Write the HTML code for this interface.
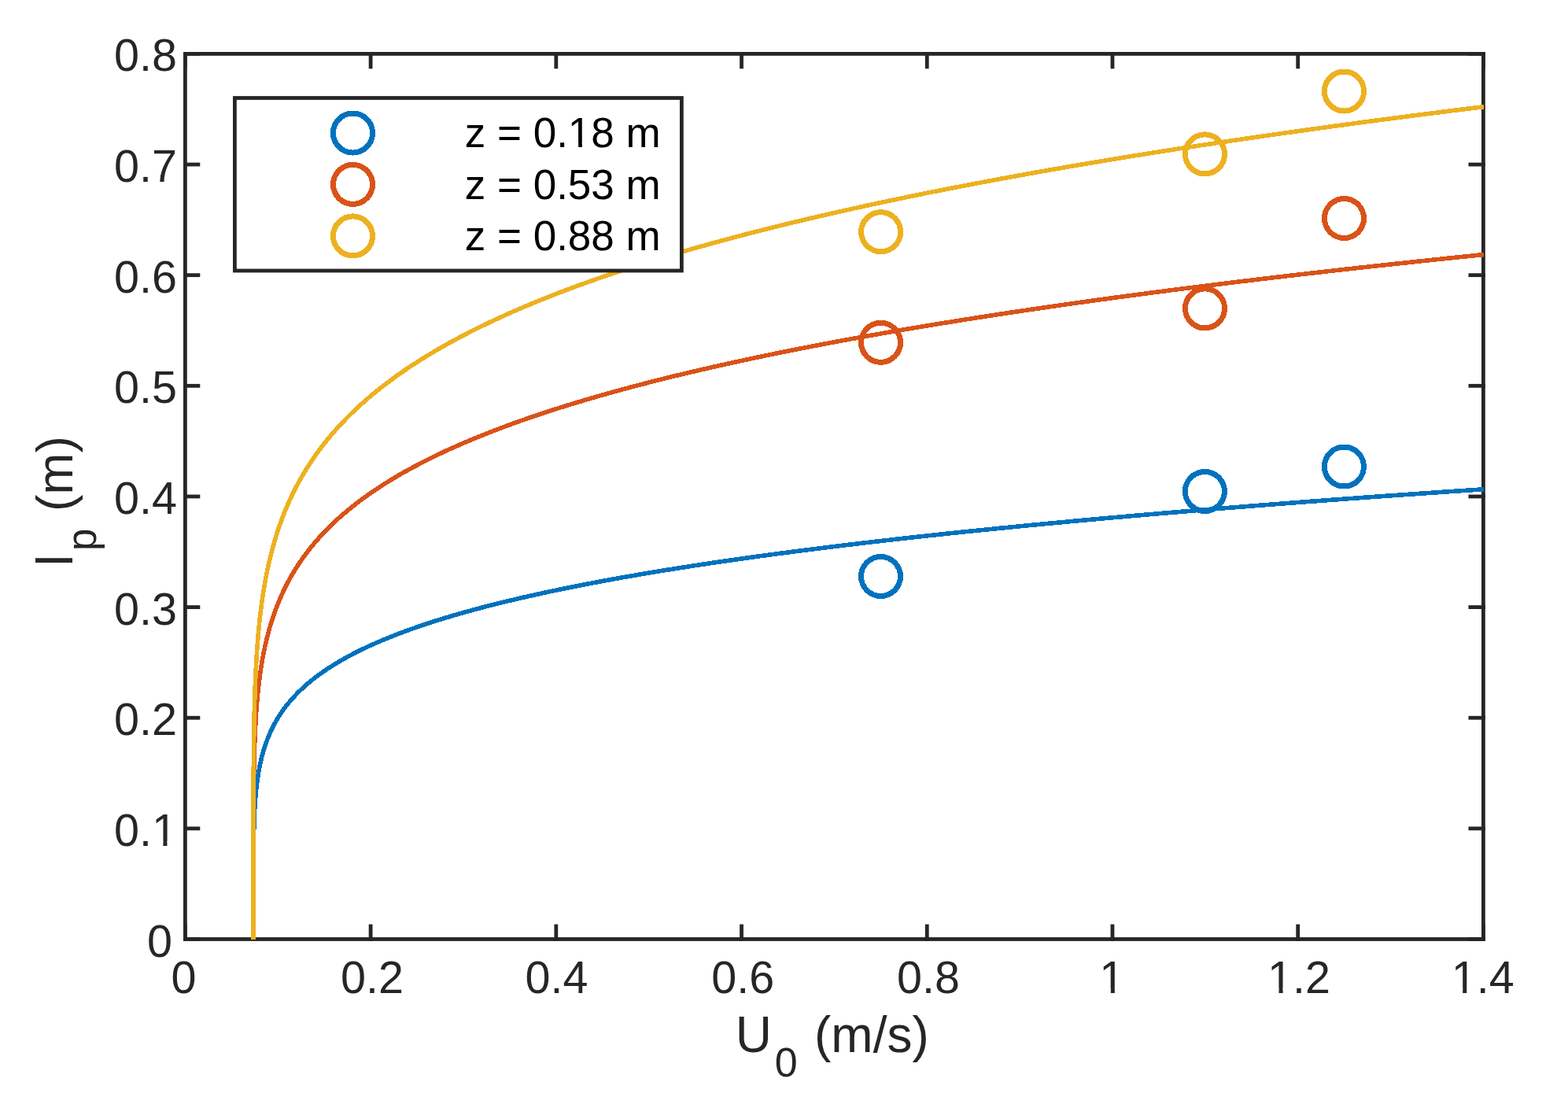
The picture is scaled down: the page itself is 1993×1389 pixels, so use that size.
<!DOCTYPE html>
<html><head><meta charset="utf-8"><title>plot</title>
<style>html,body{margin:0;padding:0;background:#fff;width:1993px;height:1389px;overflow:hidden}
svg{display:block} text{font-family:'Liberation Sans', Arial, Helvetica, sans-serif;}</style></head>
<body>
<svg width="1993" height="1389" viewBox="0 0 1993 1389">
<rect width="1993" height="1389" fill="#fff"/>
<rect x="235.4" y="68.4" width="1650.0" height="1125.1" fill="none" stroke="#262626" stroke-width="4.8"/>
<rect x="233.0" y="1191.10" width="21.30" height="4.8" fill="#262626"/>
<rect x="1866.50" y="1191.10" width="21.30" height="4.8" fill="#262626"/>
<rect x="233.0" y="1050.46" width="21.30" height="4.8" fill="#262626"/>
<rect x="1866.50" y="1050.46" width="21.30" height="4.8" fill="#262626"/>
<rect x="233.0" y="909.83" width="21.30" height="4.8" fill="#262626"/>
<rect x="1866.50" y="909.83" width="21.30" height="4.8" fill="#262626"/>
<rect x="233.0" y="769.19" width="21.30" height="4.8" fill="#262626"/>
<rect x="1866.50" y="769.19" width="21.30" height="4.8" fill="#262626"/>
<rect x="233.0" y="628.55" width="21.30" height="4.8" fill="#262626"/>
<rect x="1866.50" y="628.55" width="21.30" height="4.8" fill="#262626"/>
<rect x="233.0" y="487.91" width="21.30" height="4.8" fill="#262626"/>
<rect x="1866.50" y="487.91" width="21.30" height="4.8" fill="#262626"/>
<rect x="233.0" y="347.27" width="21.30" height="4.8" fill="#262626"/>
<rect x="1866.50" y="347.27" width="21.30" height="4.8" fill="#262626"/>
<rect x="233.0" y="206.64" width="21.30" height="4.8" fill="#262626"/>
<rect x="1866.50" y="206.64" width="21.30" height="4.8" fill="#262626"/>
<rect x="233.0" y="66.00" width="21.30" height="4.8" fill="#262626"/>
<rect x="1866.50" y="66.00" width="21.30" height="4.8" fill="#262626"/>
<rect x="233.00" y="1174.60" width="4.8" height="21.30" fill="#262626"/>
<rect x="233.00" y="66.00" width="4.8" height="21.30" fill="#262626"/>
<rect x="468.71" y="1174.60" width="4.8" height="21.30" fill="#262626"/>
<rect x="468.71" y="66.00" width="4.8" height="21.30" fill="#262626"/>
<rect x="704.43" y="1174.60" width="4.8" height="21.30" fill="#262626"/>
<rect x="704.43" y="66.00" width="4.8" height="21.30" fill="#262626"/>
<rect x="940.14" y="1174.60" width="4.8" height="21.30" fill="#262626"/>
<rect x="940.14" y="66.00" width="4.8" height="21.30" fill="#262626"/>
<rect x="1175.86" y="1174.60" width="4.8" height="21.30" fill="#262626"/>
<rect x="1175.86" y="66.00" width="4.8" height="21.30" fill="#262626"/>
<rect x="1411.57" y="1174.60" width="4.8" height="21.30" fill="#262626"/>
<rect x="1411.57" y="66.00" width="4.8" height="21.30" fill="#262626"/>
<rect x="1647.29" y="1174.60" width="4.8" height="21.30" fill="#262626"/>
<rect x="1647.29" y="66.00" width="4.8" height="21.30" fill="#262626"/>
<rect x="1883.00" y="1174.60" width="4.8" height="21.30" fill="#262626"/>
<rect x="1883.00" y="66.00" width="4.8" height="21.30" fill="#262626"/>
<polyline points="322.05,1194.20 322.05,1176.45 322.05,1168.34 322.05,1161.97 322.05,1156.52 322.05,1151.67 322.06,1147.24 322.06,1143.14 322.06,1139.30 322.06,1135.68 322.06,1132.23 322.06,1128.94 322.07,1125.78 322.07,1122.74 322.07,1119.81 322.08,1116.97 322.08,1114.21 322.09,1111.54 322.10,1108.93 322.10,1106.39 322.11,1103.91 322.12,1101.49 322.13,1099.12 322.14,1096.79 322.15,1094.52 322.17,1092.28 322.18,1090.09 322.20,1087.93 322.21,1085.81 322.23,1083.73 322.25,1081.67 322.27,1079.65 322.29,1077.66 322.31,1075.70 322.34,1073.76 322.36,1071.85 322.39,1069.96 322.42,1068.10 322.45,1066.26 322.48,1064.45 322.52,1062.65 322.55,1060.87 322.59,1059.12 322.63,1057.38 322.67,1055.66 322.71,1053.96 322.76,1052.28 322.81,1050.61 322.85,1048.96 322.91,1047.32 322.96,1045.70 323.01,1044.10 323.07,1042.51 323.13,1040.93 323.19,1039.37 323.26,1037.82 323.33,1036.28 323.39,1034.75 323.47,1033.24 323.54,1031.74 323.62,1030.25 323.70,1028.77 323.78,1027.31 323.86,1025.85 323.95,1024.40 324.04,1022.97 324.14,1021.54 324.23,1020.13 324.33,1018.72 324.43,1017.32 324.54,1015.94 324.64,1014.56 324.76,1013.19 324.87,1011.83 324.99,1010.48 325.11,1009.13 325.23,1007.80 325.36,1006.47 325.49,1005.15 325.62,1003.84 325.76,1002.53 325.90,1001.23 326.05,999.94 326.19,998.66 326.34,997.39 326.50,996.12 326.66,994.85 326.82,993.60 326.99,992.35 327.16,991.11 327.33,989.87 327.51,988.64 327.69,987.42 327.88,986.20 328.07,984.99 328.26,983.78 328.46,982.59 328.66,981.39 328.87,980.20 329.08,979.02 329.29,977.84 329.51,976.67 329.74,975.50 329.96,974.34 330.20,973.18 330.43,972.03 330.68,970.89 330.92,969.75 331.17,968.61 331.43,967.48 331.69,966.35 331.96,965.23 332.23,964.11 332.50,963.00 332.78,961.89 333.06,960.78 333.35,959.68 333.65,958.59 333.95,957.50 334.25,956.41 334.56,955.33 334.88,954.25 335.20,953.17 335.53,952.10 335.86,951.04 336.19,949.97 336.54,948.91 336.88,947.86 337.24,946.81 337.60,945.76 337.96,944.72 338.33,943.67 338.71,942.64 339.09,941.61 339.47,940.58 339.87,939.55 340.27,938.53 340.67,937.51 341.08,936.49 341.50,935.48 341.92,934.47 342.35,933.47 342.78,932.46 343.22,931.46 343.67,930.47 344.13,929.47 344.59,928.48 345.05,927.50 345.52,926.51 346.00,925.53 346.49,924.56 346.98,923.58 347.48,922.61 347.98,921.64 348.50,920.68 349.01,919.71 349.54,918.75 350.07,917.79 350.61,916.84 351.16,915.89 351.71,914.94 352.27,913.99 352.83,913.05 353.41,912.11 353.99,911.17 354.58,910.23 355.17,909.30 355.77,908.37 356.38,907.44 357.00,906.52 357.62,905.59 358.26,904.67 358.89,903.75 359.54,902.84 360.19,901.93 360.86,901.01 361.52,900.11 362.20,899.20 362.89,898.30 363.58,897.39 364.28,896.50 364.99,895.60 365.70,894.70 366.42,893.81 367.16,892.92 367.89,892.03 368.64,891.15 369.40,890.26 370.16,889.38 370.93,888.50 371.71,887.63 372.50,886.75 373.30,885.88 374.10,885.01 374.92,884.14 375.74,883.27 376.57,882.41 377.41,881.54 378.25,880.68 379.11,879.82 379.97,878.97 380.85,878.11 381.73,877.26 382.62,876.41 383.52,875.56 384.43,874.71 385.34,873.87 386.27,873.02 387.21,872.18 388.15,871.34 389.10,870.50 390.07,869.67 391.04,868.83 392.02,868.00 393.01,867.17 394.01,866.34 395.02,865.51 396.03,864.69 397.06,863.86 398.10,863.04 399.15,862.22 400.20,861.40 401.27,860.59 402.34,859.77 403.43,858.96 404.52,858.15 405.63,857.34 406.74,856.53 407.86,855.72 409.00,854.92 410.14,854.11 411.30,853.31 412.46,852.51 413.64,851.71 414.82,850.91 416.01,850.12 417.22,849.32 418.43,848.53 419.66,847.74 420.89,846.95 422.14,846.16 423.40,845.37 424.66,844.59 425.94,843.81 427.23,843.02 428.53,842.24 429.84,841.46 431.16,840.69 432.49,839.91 433.83,839.13 435.18,838.36 436.54,837.59 437.92,836.82 439.30,836.05 440.70,835.28 442.10,834.51 443.52,833.75 444.95,832.98 446.39,832.22 447.84,831.46 449.30,830.70 450.78,829.94 452.26,829.19 453.76,828.43 455.27,827.67 456.79,826.92 458.32,826.17 459.86,825.42 461.42,824.67 462.98,823.92 464.56,823.17 466.15,822.43 467.75,821.68 469.36,820.94 470.99,820.20 472.62,819.46 474.27,818.72 475.93,817.98 477.61,817.25 479.29,816.51 480.99,815.78 482.70,815.04 484.42,814.31 486.15,813.58 487.90,812.85 489.65,812.12 491.42,811.39 493.21,810.67 495.00,809.94 496.81,809.22 498.63,808.50 500.46,807.77 502.31,807.05 504.17,806.33 506.04,805.62 507.92,804.90 509.82,804.18 511.73,803.47 513.65,802.75 515.59,802.04 517.53,801.33 519.50,800.62 521.47,799.91 523.46,799.20 525.46,798.49 527.47,797.79 529.50,797.08 531.54,796.38 533.59,795.67 535.66,794.97 537.74,794.27 539.84,793.57 541.94,792.87 544.06,792.17 546.20,791.48 548.35,790.78 550.51,790.09 552.68,789.39 554.87,788.70 557.08,788.01 559.29,787.32 561.53,786.63 563.77,785.94 566.03,785.25 568.30,784.56 570.59,783.88 572.89,783.19 575.21,782.51 577.54,781.82 579.88,781.14 582.24,780.46 584.61,779.78 587.00,779.10 589.40,778.42 591.81,777.75 594.25,777.07 596.69,776.39 599.15,775.72 601.62,775.04 604.11,774.37 606.62,773.70 609.13,773.03 611.67,772.36 614.21,771.69 616.78,771.02 619.36,770.35 621.95,769.69 624.56,769.02 627.18,768.36 629.82,767.69 632.47,767.03 635.14,766.37 637.82,765.71 640.52,765.04 643.23,764.38 645.96,763.73 648.71,763.07 651.47,762.41 654.25,761.75 657.04,761.10 659.84,760.44 662.67,759.79 665.51,759.14 668.36,758.49 671.23,757.83 674.12,757.18 677.02,756.53 679.93,755.88 682.87,755.24 685.82,754.59 688.78,753.94 691.76,753.30 694.76,752.65 697.78,752.01 700.81,751.36 703.85,750.72 706.91,750.08 709.99,749.44 713.09,748.80 716.20,748.16 719.33,747.52 722.47,746.88 725.63,746.25 728.81,745.61 732.01,744.97 735.22,744.34 738.45,743.71 741.69,743.07 744.95,742.44 748.23,741.81 751.52,741.18 754.84,740.55 758.17,739.92 761.51,739.29 764.88,738.66 768.26,738.03 771.65,737.40 775.07,736.78 778.50,736.15 781.95,735.53 785.42,734.91 788.90,734.28 792.40,733.66 795.92,733.04 799.46,732.42 803.01,731.80 806.58,731.18 810.17,730.56 813.78,729.94 817.40,729.32 821.04,728.71 824.70,728.09 828.38,727.47 832.08,726.86 835.79,726.25 839.52,725.63 843.27,725.02 847.04,724.41 850.83,723.80 854.63,723.18 858.45,722.57 862.29,721.97 866.15,721.36 870.03,720.75 873.93,720.14 877.84,719.53 881.77,718.93 885.72,718.32 889.69,717.72 893.68,717.11 897.69,716.51 901.71,715.91 905.76,715.30 909.82,714.70 913.90,714.10 918.00,713.50 922.12,712.90 926.26,712.30 930.42,711.70 934.59,711.11 938.79,710.51 943.00,709.91 947.24,709.32 951.49,708.72 955.76,708.13 960.05,707.53 964.36,706.94 968.69,706.35 973.04,705.75 977.41,705.16 981.80,704.57 986.21,703.98 990.64,703.39 995.08,702.80 999.55,702.21 1004.04,701.62 1008.54,701.04 1013.07,700.45 1017.62,699.86 1022.18,699.28 1026.77,698.69 1031.38,698.11 1036.00,697.52 1040.65,696.94 1045.31,696.36 1050.00,695.77 1054.71,695.19 1059.43,694.61 1064.18,694.03 1068.95,693.45 1073.74,692.87 1078.54,692.29 1083.37,691.71 1088.22,691.14 1093.09,690.56 1097.98,689.98 1102.89,689.41 1107.82,688.83 1112.78,688.26 1117.75,687.68 1122.74,687.11 1127.76,686.53 1132.79,685.96 1137.85,685.39 1142.93,684.82 1148.03,684.25 1153.15,683.68 1158.29,683.11 1163.45,682.54 1168.63,681.97 1173.84,681.40 1179.06,680.83 1184.31,680.26 1189.58,679.70 1194.87,679.13 1200.18,678.56 1205.51,678.00 1210.86,677.43 1216.24,676.87 1221.64,676.31 1227.06,675.74 1232.50,675.18 1237.96,674.62 1243.45,674.06 1248.95,673.49 1254.48,672.93 1260.03,672.37 1265.60,671.81 1271.20,671.25 1276.81,670.70 1282.45,670.14 1288.11,669.58 1293.79,669.02 1299.50,668.47 1305.23,667.91 1310.98,667.35 1316.75,666.80 1322.54,666.24 1328.36,665.69 1334.20,665.14 1340.06,664.58 1345.94,664.03 1351.85,663.48 1357.78,662.93 1363.73,662.37 1369.71,661.82 1375.71,661.27 1381.73,660.72 1387.77,660.17 1393.84,659.62 1399.93,659.08 1406.04,658.53 1412.18,657.98 1418.33,657.43 1424.52,656.89 1430.72,656.34 1436.95,655.79 1443.20,655.25 1449.48,654.70 1455.78,654.16 1462.10,653.62 1468.44,653.07 1474.81,652.53 1481.20,651.99 1487.62,651.45 1494.06,650.90 1500.52,650.36 1507.01,649.82 1513.52,649.28 1520.06,648.74 1526.61,648.20 1533.20,647.66 1539.80,647.13 1546.43,646.59 1553.09,646.05 1559.76,645.51 1566.47,644.98 1573.19,644.44 1579.94,643.91 1586.72,643.37 1593.52,642.84 1600.34,642.30 1607.19,641.77 1614.06,641.23 1620.96,640.70 1627.88,640.17 1634.83,639.64 1641.80,639.10 1648.79,638.57 1655.81,638.04 1662.86,637.51 1669.93,636.98 1677.02,636.45 1684.14,635.92 1691.28,635.39 1698.45,634.86 1705.64,634.34 1712.86,633.81 1720.11,633.28 1727.38,632.75 1734.67,632.23 1741.99,631.70 1749.33,631.18 1756.70,630.65 1764.10,630.13 1771.52,629.60 1778.97,629.08 1786.44,628.56 1793.93,628.03 1801.46,627.51 1809.00,626.99 1816.58,626.47 1824.18,625.94 1831.80,625.42 1839.45,624.90 1847.13,624.38 1854.83,623.86 1862.56,623.34 1870.31,622.82 1878.09,622.31 1885.90,621.79" fill="none" stroke="#0072BD" stroke-width="5.6" stroke-linejoin="round" shape-rendering="crispEdges"/>
<polyline points="322.05,1194.20 322.05,1167.72 322.05,1155.53 322.05,1145.95 322.05,1137.75 322.05,1130.43 322.06,1123.76 322.06,1117.57 322.06,1111.78 322.06,1106.30 322.06,1101.10 322.06,1096.12 322.07,1091.35 322.07,1086.76 322.07,1082.32 322.08,1078.03 322.08,1073.86 322.09,1069.81 322.10,1065.87 322.10,1062.02 322.11,1058.27 322.12,1054.60 322.13,1051.01 322.14,1047.49 322.15,1044.04 322.17,1040.65 322.18,1037.33 322.20,1034.06 322.21,1030.85 322.23,1027.69 322.25,1024.58 322.27,1021.52 322.29,1018.50 322.31,1015.52 322.34,1012.58 322.36,1009.69 322.39,1006.83 322.42,1004.00 322.45,1001.21 322.48,998.46 322.52,995.73 322.55,993.04 322.59,990.37 322.63,987.74 322.67,985.13 322.71,982.55 322.76,979.99 322.81,977.46 322.85,974.96 322.91,972.48 322.96,970.02 323.01,967.58 323.07,965.16 323.13,962.77 323.19,960.40 323.26,958.04 323.33,955.71 323.39,953.39 323.47,951.09 323.54,948.81 323.62,946.55 323.70,944.31 323.78,942.08 323.86,939.87 323.95,937.67 324.04,935.49 324.14,933.32 324.23,931.17 324.33,929.04 324.43,926.91 324.54,924.81 324.64,922.71 324.76,920.63 324.87,918.56 324.99,916.51 325.11,914.46 325.23,912.43 325.36,910.42 325.49,908.41 325.62,906.41 325.76,904.43 325.90,902.46 326.05,900.50 326.19,898.55 326.34,896.61 326.50,894.68 326.66,892.76 326.82,890.85 326.99,888.95 327.16,887.06 327.33,885.18 327.51,883.31 327.69,881.45 327.88,879.60 328.07,877.76 328.26,875.93 328.46,874.10 328.66,872.28 328.87,870.48 329.08,868.68 329.29,866.89 329.51,865.10 329.74,863.33 329.96,861.56 330.20,859.80 330.43,858.05 330.68,856.31 330.92,854.57 331.17,852.84 331.43,851.12 331.69,849.40 331.96,847.69 332.23,845.99 332.50,844.30 332.78,842.61 333.06,840.93 333.35,839.26 333.65,837.59 333.95,835.93 334.25,834.27 334.56,832.63 334.88,830.98 335.20,829.35 335.53,827.72 335.86,826.09 336.19,824.48 336.54,822.86 336.88,821.26 337.24,819.66 337.60,818.06 337.96,816.47 338.33,814.89 338.71,813.31 339.09,811.74 339.47,810.17 339.87,808.61 340.27,807.05 340.67,805.50 341.08,803.95 341.50,802.41 341.92,800.88 342.35,799.34 342.78,797.82 343.22,796.30 343.67,794.78 344.13,793.27 344.59,791.76 345.05,790.26 345.52,788.76 346.00,787.27 346.49,785.78 346.98,784.29 347.48,782.81 347.98,781.34 348.50,779.87 349.01,778.40 349.54,776.94 350.07,775.48 350.61,774.02 351.16,772.57 351.71,771.13 352.27,769.69 352.83,768.25 353.41,766.82 353.99,765.39 354.58,763.96 355.17,762.54 355.77,761.12 356.38,759.71 357.00,758.30 357.62,756.89 358.26,755.49 358.89,754.09 359.54,752.69 360.19,751.30 360.86,749.91 361.52,748.53 362.20,747.15 362.89,745.77 363.58,744.40 364.28,743.03 364.99,741.66 365.70,740.30 366.42,738.94 367.16,737.58 367.89,736.23 368.64,734.88 369.40,733.53 370.16,732.19 370.93,730.85 371.71,729.51 372.50,728.18 373.30,726.84 374.10,725.52 374.92,724.19 375.74,722.87 376.57,721.55 377.41,720.24 378.25,718.93 379.11,717.62 379.97,716.31 380.85,715.01 381.73,713.71 382.62,712.41 383.52,711.12 384.43,709.82 385.34,708.54 386.27,707.25 387.21,705.97 388.15,704.69 389.10,703.41 390.07,702.13 391.04,700.86 392.02,699.59 393.01,698.33 394.01,697.06 395.02,695.80 396.03,694.54 397.06,693.29 398.10,692.03 399.15,690.78 400.20,689.54 401.27,688.29 402.34,687.05 403.43,685.81 404.52,684.57 405.63,683.33 406.74,682.10 407.86,680.87 409.00,679.64 410.14,678.42 411.30,677.19 412.46,675.97 413.64,674.75 414.82,673.54 416.01,672.32 417.22,671.11 418.43,669.90 419.66,668.70 420.89,667.49 422.14,666.29 423.40,665.09 424.66,663.89 425.94,662.70 427.23,661.50 428.53,660.31 429.84,659.12 431.16,657.94 432.49,656.75 433.83,655.57 435.18,654.39 436.54,653.21 437.92,652.04 439.30,650.86 440.70,649.69 442.10,648.52 443.52,647.36 444.95,646.19 446.39,645.03 447.84,643.87 449.30,642.71 450.78,641.55 452.26,640.39 453.76,639.24 455.27,638.09 456.79,636.94 458.32,635.79 459.86,634.65 461.42,633.51 462.98,632.36 464.56,631.23 466.15,630.09 467.75,628.95 469.36,627.82 470.99,626.69 472.62,625.56 474.27,624.43 475.93,623.30 477.61,622.18 479.29,621.06 480.99,619.93 482.70,618.82 484.42,617.70 486.15,616.58 487.90,615.47 489.65,614.36 491.42,613.25 493.21,612.14 495.00,611.03 496.81,609.93 498.63,608.83 500.46,607.72 502.31,606.62 504.17,605.53 506.04,604.43 507.92,603.34 509.82,602.24 511.73,601.15 513.65,600.06 515.59,598.98 517.53,597.89 519.50,596.80 521.47,595.72 523.46,594.64 525.46,593.56 527.47,592.48 529.50,591.41 531.54,590.33 533.59,589.26 535.66,588.19 537.74,587.12 539.84,586.05 541.94,584.98 544.06,583.92 546.20,582.85 548.35,581.79 550.51,580.73 552.68,579.67 554.87,578.61 557.08,577.56 559.29,576.50 561.53,575.45 563.77,574.40 566.03,573.35 568.30,572.30 570.59,571.25 572.89,570.20 575.21,569.16 577.54,568.12 579.88,567.08 582.24,566.04 584.61,565.00 587.00,563.96 589.40,562.92 591.81,561.89 594.25,560.86 596.69,559.83 599.15,558.80 601.62,557.77 604.11,556.74 606.62,555.71 609.13,554.69 611.67,553.67 614.21,552.64 616.78,551.62 619.36,550.60 621.95,549.59 624.56,548.57 627.18,547.55 629.82,546.54 632.47,545.53 635.14,544.52 637.82,543.51 640.52,542.50 643.23,541.49 645.96,540.48 648.71,539.48 651.47,538.48 654.25,537.47 657.04,536.47 659.84,535.47 662.67,534.47 665.51,533.48 668.36,532.48 671.23,531.49 674.12,530.49 677.02,529.50 679.93,528.51 682.87,527.52 685.82,526.53 688.78,525.54 691.76,524.56 694.76,523.57 697.78,522.59 700.81,521.61 703.85,520.63 706.91,519.65 709.99,518.67 713.09,517.69 716.20,516.71 719.33,515.74 722.47,514.76 725.63,513.79 728.81,512.82 732.01,511.85 735.22,510.88 738.45,509.91 741.69,508.94 744.95,507.97 748.23,507.01 751.52,506.05 754.84,505.08 758.17,504.12 761.51,503.16 764.88,502.20 768.26,501.24 771.65,500.29 775.07,499.33 778.50,498.37 781.95,497.42 785.42,496.47 788.90,495.52 792.40,494.56 795.92,493.61 799.46,492.67 803.01,491.72 806.58,490.77 810.17,489.83 813.78,488.88 817.40,487.94 821.04,487.00 824.70,486.06 828.38,485.11 832.08,484.18 835.79,483.24 839.52,482.30 843.27,481.36 847.04,480.43 850.83,479.50 854.63,478.56 858.45,477.63 862.29,476.70 866.15,475.77 870.03,474.84 873.93,473.91 877.84,472.98 881.77,472.06 885.72,471.13 889.69,470.21 893.68,469.29 897.69,468.36 901.71,467.44 905.76,466.52 909.82,465.60 913.90,464.69 918.00,463.77 922.12,462.85 926.26,461.94 930.42,461.02 934.59,460.11 938.79,459.20 943.00,458.28 947.24,457.37 951.49,456.46 955.76,455.56 960.05,454.65 964.36,453.74 968.69,452.83 973.04,451.93 977.41,451.03 981.80,450.12 986.21,449.22 990.64,448.32 995.08,447.42 999.55,446.52 1004.04,445.62 1008.54,444.72 1013.07,443.82 1017.62,442.93 1022.18,442.03 1026.77,441.14 1031.38,440.25 1036.00,439.35 1040.65,438.46 1045.31,437.57 1050.00,436.68 1054.71,435.79 1059.43,434.90 1064.18,434.02 1068.95,433.13 1073.74,432.24 1078.54,431.36 1083.37,430.48 1088.22,429.59 1093.09,428.71 1097.98,427.83 1102.89,426.95 1107.82,426.07 1112.78,425.19 1117.75,424.31 1122.74,423.43 1127.76,422.56 1132.79,421.68 1137.85,420.81 1142.93,419.93 1148.03,419.06 1153.15,418.19 1158.29,417.32 1163.45,416.45 1168.63,415.58 1173.84,414.71 1179.06,413.84 1184.31,412.97 1189.58,412.11 1194.87,411.24 1200.18,410.38 1205.51,409.51 1210.86,408.65 1216.24,407.79 1221.64,406.92 1227.06,406.06 1232.50,405.20 1237.96,404.34 1243.45,403.48 1248.95,402.63 1254.48,401.77 1260.03,400.91 1265.60,400.06 1271.20,399.20 1276.81,398.35 1282.45,397.49 1288.11,396.64 1293.79,395.79 1299.50,394.94 1305.23,394.09 1310.98,393.24 1316.75,392.39 1322.54,391.54 1328.36,390.70 1334.20,389.85 1340.06,389.00 1345.94,388.16 1351.85,387.31 1357.78,386.47 1363.73,385.63 1369.71,384.78 1375.71,383.94 1381.73,383.10 1387.77,382.26 1393.84,381.42 1399.93,380.58 1406.04,379.75 1412.18,378.91 1418.33,378.07 1424.52,377.24 1430.72,376.40 1436.95,375.57 1443.20,374.74 1449.48,373.90 1455.78,373.07 1462.10,372.24 1468.44,371.41 1474.81,370.58 1481.20,369.75 1487.62,368.92 1494.06,368.09 1500.52,367.26 1507.01,366.44 1513.52,365.61 1520.06,364.79 1526.61,363.96 1533.20,363.14 1539.80,362.32 1546.43,361.49 1553.09,360.67 1559.76,359.85 1566.47,359.03 1573.19,358.21 1579.94,357.39 1586.72,356.57 1593.52,355.75 1600.34,354.94 1607.19,354.12 1614.06,353.30 1620.96,352.49 1627.88,351.67 1634.83,350.86 1641.80,350.05 1648.79,349.24 1655.81,348.42 1662.86,347.61 1669.93,346.80 1677.02,345.99 1684.14,345.18 1691.28,344.37 1698.45,343.57 1705.64,342.76 1712.86,341.95 1720.11,341.15 1727.38,340.34 1734.67,339.53 1741.99,338.73 1749.33,337.93 1756.70,337.12 1764.10,336.32 1771.52,335.52 1778.97,334.72 1786.44,333.92 1793.93,333.12 1801.46,332.32 1809.00,331.52 1816.58,330.72 1824.18,329.92 1831.80,329.13 1839.45,328.33 1847.13,327.54 1854.83,326.74 1862.56,325.95 1870.31,325.15 1878.09,324.36 1885.90,323.57" fill="none" stroke="#D95319" stroke-width="5.6" stroke-linejoin="round" shape-rendering="crispEdges"/>
<polyline points="322.05,1194.20 322.05,1161.69 322.05,1146.79 322.05,1135.07 322.05,1125.05 322.05,1116.11 322.06,1107.96 322.06,1100.41 322.06,1093.34 322.06,1086.66 322.06,1080.31 322.06,1074.24 322.07,1068.42 322.07,1062.82 322.07,1057.41 322.08,1052.17 322.08,1047.09 322.09,1042.15 322.10,1037.35 322.10,1032.66 322.11,1028.08 322.12,1023.61 322.13,1019.24 322.14,1014.95 322.15,1010.75 322.17,1006.62 322.18,1002.58 322.20,998.60 322.21,994.68 322.23,990.84 322.25,987.05 322.27,983.32 322.29,979.64 322.31,976.01 322.34,972.44 322.36,968.91 322.39,965.43 322.42,961.99 322.45,958.59 322.48,955.24 322.52,951.92 322.55,948.64 322.59,945.40 322.63,942.19 322.67,939.01 322.71,935.87 322.76,932.76 322.81,929.68 322.85,926.63 322.91,923.61 322.96,920.62 323.01,917.65 323.07,914.71 323.13,911.80 323.19,908.91 323.26,906.04 323.33,903.20 323.39,900.39 323.47,897.59 323.54,894.82 323.62,892.06 323.70,889.33 323.78,886.62 323.86,883.93 323.95,881.26 324.04,878.60 324.14,875.97 324.23,873.35 324.33,870.76 324.43,868.17 324.54,865.61 324.64,863.06 324.76,860.53 324.87,858.02 324.99,855.52 325.11,853.03 325.23,850.56 325.36,848.11 325.49,845.67 325.62,843.24 325.76,840.83 325.90,838.43 326.05,836.05 326.19,833.67 326.34,831.31 326.50,828.97 326.66,826.64 326.82,824.31 326.99,822.01 327.16,819.71 327.33,817.42 327.51,815.15 327.69,812.89 327.88,810.64 328.07,808.40 328.26,806.17 328.46,803.95 328.66,801.74 328.87,799.54 329.08,797.35 329.29,795.18 329.51,793.01 329.74,790.85 329.96,788.70 330.20,786.56 330.43,784.43 330.68,782.31 330.92,780.20 331.17,778.10 331.43,776.01 331.69,773.92 331.96,771.85 332.23,769.78 332.50,767.72 332.78,765.67 333.06,763.62 333.35,761.59 333.65,759.56 333.95,757.54 334.25,755.53 334.56,753.53 334.88,751.53 335.20,749.55 335.53,747.57 335.86,745.59 336.19,743.63 336.54,741.67 336.88,739.71 337.24,737.77 337.60,735.83 337.96,733.90 338.33,731.98 338.71,730.06 339.09,728.15 339.47,726.24 339.87,724.34 340.27,722.45 340.67,720.57 341.08,718.69 341.50,716.81 341.92,714.95 342.35,713.09 342.78,711.23 343.22,709.38 343.67,707.54 344.13,705.70 344.59,703.87 345.05,702.04 345.52,700.22 346.00,698.41 346.49,696.60 346.98,694.80 347.48,693.00 347.98,691.21 348.50,689.42 349.01,687.64 349.54,685.86 350.07,684.09 350.61,682.32 351.16,680.56 351.71,678.80 352.27,677.05 352.83,675.30 353.41,673.56 353.99,671.83 354.58,670.09 355.17,668.37 355.77,666.64 356.38,664.93 357.00,663.21 357.62,661.51 358.26,659.80 358.89,658.10 359.54,656.41 360.19,654.72 360.86,653.03 361.52,651.35 362.20,649.67 362.89,648.00 363.58,646.33 364.28,644.67 364.99,643.01 365.70,641.35 366.42,639.70 367.16,638.05 367.89,636.41 368.64,634.77 369.40,633.13 370.16,631.50 370.93,629.87 371.71,628.25 372.50,626.63 373.30,625.01 374.10,623.40 374.92,621.79 375.74,620.19 376.57,618.58 377.41,616.99 378.25,615.39 379.11,613.80 379.97,612.22 380.85,610.64 381.73,609.06 382.62,607.48 383.52,605.91 384.43,604.34 385.34,602.78 386.27,601.21 387.21,599.66 388.15,598.10 389.10,596.55 390.07,595.00 391.04,593.46 392.02,591.92 393.01,590.38 394.01,588.84 395.02,587.31 396.03,585.78 397.06,584.26 398.10,582.74 399.15,581.22 400.20,579.70 401.27,578.19 402.34,576.68 403.43,575.17 404.52,573.67 405.63,572.17 406.74,570.67 407.86,569.18 409.00,567.69 410.14,566.20 411.30,564.71 412.46,563.23 413.64,561.75 414.82,560.28 416.01,558.80 417.22,557.33 418.43,555.86 419.66,554.40 420.89,552.94 422.14,551.48 423.40,550.02 424.66,548.57 425.94,547.11 427.23,545.67 428.53,544.22 429.84,542.78 431.16,541.34 432.49,539.90 433.83,538.46 435.18,537.03 436.54,535.60 437.92,534.17 439.30,532.75 440.70,531.33 442.10,529.91 443.52,528.49 444.95,527.07 446.39,525.66 447.84,524.25 449.30,522.85 450.78,521.44 452.26,520.04 453.76,518.64 455.27,517.24 456.79,515.85 458.32,514.45 459.86,513.06 461.42,511.68 462.98,510.29 464.56,508.91 466.15,507.53 467.75,506.15 469.36,504.77 470.99,503.40 472.62,502.03 474.27,500.66 475.93,499.29 477.61,497.92 479.29,496.56 480.99,495.20 482.70,493.84 484.42,492.49 486.15,491.13 487.90,489.78 489.65,488.43 491.42,487.08 493.21,485.74 495.00,484.40 496.81,483.06 498.63,481.72 500.46,480.38 502.31,479.05 504.17,477.71 506.04,476.38 507.92,475.05 509.82,473.73 511.73,472.40 513.65,471.08 515.59,469.76 517.53,468.44 519.50,467.13 521.47,465.81 523.46,464.50 525.46,463.19 527.47,461.88 529.50,460.57 531.54,459.27 533.59,457.97 535.66,456.67 537.74,455.37 539.84,454.07 541.94,452.78 544.06,451.48 546.20,450.19 548.35,448.90 550.51,447.62 552.68,446.33 554.87,445.05 557.08,443.77 559.29,442.49 561.53,441.21 563.77,439.93 566.03,438.66 568.30,437.38 570.59,436.11 572.89,434.84 575.21,433.58 577.54,432.31 579.88,431.05 582.24,429.78 584.61,428.52 587.00,427.26 589.40,426.01 591.81,424.75 594.25,423.50 596.69,422.25 599.15,421.00 601.62,419.75 604.11,418.50 606.62,417.26 609.13,416.01 611.67,414.77 614.21,413.53 616.78,412.29 619.36,411.06 621.95,409.82 624.56,408.59 627.18,407.36 629.82,406.13 632.47,404.90 635.14,403.67 637.82,402.44 640.52,401.22 643.23,400.00 645.96,398.78 648.71,397.56 651.47,396.34 654.25,395.12 657.04,393.91 659.84,392.70 662.67,391.48 665.51,390.27 668.36,389.07 671.23,387.86 674.12,386.65 677.02,385.45 679.93,384.25 682.87,383.05 685.82,381.85 688.78,380.65 691.76,379.45 694.76,378.26 697.78,377.06 700.81,375.87 703.85,374.68 706.91,373.49 709.99,372.30 713.09,371.12 716.20,369.93 719.33,368.75 722.47,367.57 725.63,366.39 728.81,365.21 732.01,364.03 735.22,362.85 738.45,361.68 741.69,360.50 744.95,359.33 748.23,358.16 751.52,356.99 754.84,355.82 758.17,354.66 761.51,353.49 764.88,352.33 768.26,351.16 771.65,350.00 775.07,348.84 778.50,347.68 781.95,346.53 785.42,345.37 788.90,344.22 792.40,343.06 795.92,341.91 799.46,340.76 803.01,339.61 806.58,338.46 810.17,337.31 813.78,336.17 817.40,335.02 821.04,333.88 824.70,332.74 828.38,331.60 832.08,330.46 835.79,329.32 839.52,328.18 843.27,327.05 847.04,325.91 850.83,324.78 854.63,323.65 858.45,322.52 862.29,321.39 866.15,320.26 870.03,319.13 873.93,318.01 877.84,316.88 881.77,315.76 885.72,314.64 889.69,313.52 893.68,312.40 897.69,311.28 901.71,310.16 905.76,309.04 909.82,307.93 913.90,306.81 918.00,305.70 922.12,304.59 926.26,303.48 930.42,302.37 934.59,301.26 938.79,300.16 943.00,299.05 947.24,297.95 951.49,296.84 955.76,295.74 960.05,294.64 964.36,293.54 968.69,292.44 973.04,291.34 977.41,290.24 981.80,289.15 986.21,288.05 990.64,286.96 995.08,285.87 999.55,284.78 1004.04,283.69 1008.54,282.60 1013.07,281.51 1017.62,280.42 1022.18,279.34 1026.77,278.25 1031.38,277.17 1036.00,276.09 1040.65,275.00 1045.31,273.92 1050.00,272.84 1054.71,271.77 1059.43,270.69 1064.18,269.61 1068.95,268.54 1073.74,267.46 1078.54,266.39 1083.37,265.32 1088.22,264.25 1093.09,263.18 1097.98,262.11 1102.89,261.04 1107.82,259.97 1112.78,258.91 1117.75,257.84 1122.74,256.78 1127.76,255.72 1132.79,254.65 1137.85,253.59 1142.93,252.53 1148.03,251.47 1153.15,250.42 1158.29,249.36 1163.45,248.30 1168.63,247.25 1173.84,246.19 1179.06,245.14 1184.31,244.09 1189.58,243.04 1194.87,241.99 1200.18,240.94 1205.51,239.89 1210.86,238.84 1216.24,237.80 1221.64,236.75 1227.06,235.71 1232.50,234.67 1237.96,233.62 1243.45,232.58 1248.95,231.54 1254.48,230.50 1260.03,229.46 1265.60,228.43 1271.20,227.39 1276.81,226.35 1282.45,225.32 1288.11,224.28 1293.79,223.25 1299.50,222.22 1305.23,221.19 1310.98,220.16 1316.75,219.13 1322.54,218.10 1328.36,217.07 1334.20,216.05 1340.06,215.02 1345.94,213.99 1351.85,212.97 1357.78,211.95 1363.73,210.93 1369.71,209.90 1375.71,208.88 1381.73,207.86 1387.77,206.85 1393.84,205.83 1399.93,204.81 1406.04,203.79 1412.18,202.78 1418.33,201.77 1424.52,200.75 1430.72,199.74 1436.95,198.73 1443.20,197.72 1449.48,196.71 1455.78,195.70 1462.10,194.69 1468.44,193.68 1474.81,192.68 1481.20,191.67 1487.62,190.66 1494.06,189.66 1500.52,188.66 1507.01,187.66 1513.52,186.65 1520.06,185.65 1526.61,184.65 1533.20,183.65 1539.80,182.66 1546.43,181.66 1553.09,180.66 1559.76,179.67 1566.47,178.67 1573.19,177.68 1579.94,176.68 1586.72,175.69 1593.52,174.70 1600.34,173.71 1607.19,172.72 1614.06,171.73 1620.96,170.74 1627.88,169.75 1634.83,168.77 1641.80,167.78 1648.79,166.80 1655.81,165.81 1662.86,164.83 1669.93,163.84 1677.02,162.86 1684.14,161.88 1691.28,160.90 1698.45,159.92 1705.64,158.94 1712.86,157.96 1720.11,156.99 1727.38,156.01 1734.67,155.03 1741.99,154.06 1749.33,153.08 1756.70,152.11 1764.10,151.14 1771.52,150.16 1778.97,149.19 1786.44,148.22 1793.93,147.25 1801.46,146.28 1809.00,145.31 1816.58,144.35 1824.18,143.38 1831.80,142.41 1839.45,141.45 1847.13,140.48 1854.83,139.52 1862.56,138.56 1870.31,137.59 1878.09,136.63 1885.90,135.67" fill="none" stroke="#EDB120" stroke-width="5.6" stroke-linejoin="round" shape-rendering="crispEdges"/>
<circle cx="1119.5" cy="732.5" r="25.0" fill="none" stroke="#0072BD" stroke-width="7.0" shape-rendering="crispEdges"/>
<circle cx="1531.4" cy="624.5" r="25.0" fill="none" stroke="#0072BD" stroke-width="7.0" shape-rendering="crispEdges"/>
<circle cx="1708.4" cy="593.0" r="25.0" fill="none" stroke="#0072BD" stroke-width="7.0" shape-rendering="crispEdges"/>
<circle cx="1119.5" cy="435.3" r="25.0" fill="none" stroke="#D95319" stroke-width="7.0" shape-rendering="crispEdges"/>
<circle cx="1531.5" cy="391.9" r="25.0" fill="none" stroke="#D95319" stroke-width="7.0" shape-rendering="crispEdges"/>
<circle cx="1708.5" cy="277.5" r="25.0" fill="none" stroke="#D95319" stroke-width="7.0" shape-rendering="crispEdges"/>
<circle cx="1119.6" cy="294.7" r="25.0" fill="none" stroke="#EDB120" stroke-width="7.0" shape-rendering="crispEdges"/>
<circle cx="1531.5" cy="195.9" r="25.0" fill="none" stroke="#EDB120" stroke-width="7.0" shape-rendering="crispEdges"/>
<circle cx="1708.5" cy="116.0" r="25.0" fill="none" stroke="#EDB120" stroke-width="7.0" shape-rendering="crispEdges"/>
<text x="187.07" y="1215.50" font-size="57.5" fill="#262626">0</text>
<text x="144.96" y="1074.86" font-size="57.5" fill="#262626">0.1</text>
<text x="144.96" y="934.23" font-size="57.5" fill="#262626">0.2</text>
<text x="144.96" y="793.59" font-size="57.5" fill="#262626">0.3</text>
<text x="144.96" y="652.95" font-size="57.5" fill="#262626">0.4</text>
<text x="144.96" y="512.31" font-size="57.5" fill="#262626">0.5</text>
<text x="144.96" y="371.67" font-size="57.5" fill="#262626">0.6</text>
<text x="144.96" y="231.04" font-size="57.5" fill="#262626">0.7</text>
<text x="144.96" y="90.40" font-size="57.5" fill="#262626">0.8</text>
<text x="217.41" y="1261.80" font-size="57.5" fill="#262626">0</text>
<text x="432.96" y="1261.80" font-size="57.5" fill="#262626">0.2</text>
<text x="667.45" y="1261.80" font-size="57.5" fill="#262626">0.4</text>
<text x="904.29" y="1261.80" font-size="57.5" fill="#262626">0.6</text>
<text x="1139.97" y="1261.80" font-size="57.5" fill="#262626">0.8</text>
<text x="1397.36" y="1261.80" font-size="57.5" fill="#262626">1</text>
<text x="1611.06" y="1261.80" font-size="57.5" fill="#262626">1.2</text>
<text x="1844.75" y="1261.80" font-size="57.5" fill="#262626">1.4</text>
<text x="934.76" y="1337.00" font-size="64" fill="#262626">U</text>
<text x="984.67" y="1368.30" font-size="52" fill="#262626">0</text>
<text x="1035.03" y="1337.00" font-size="64" fill="#262626">(m/s)</text>
<text transform="translate(91.70,719.31) rotate(-90)" font-size="64" fill="#262626">l</text>
<text transform="translate(122.30,699.99) rotate(-90)" font-size="51" fill="#262626">p</text>
<text transform="translate(91.70,649.97) rotate(-90)" font-size="64" fill="#262626">(m)</text>
<rect x="298.4" y="124.5" width="568.0" height="219.5" fill="#fff" stroke="#262626" stroke-width="4.8"/>
<circle cx="448.5" cy="169.0" r="25.0" fill="none" stroke="#0072BD" stroke-width="7.0" shape-rendering="crispEdges"/>
<text x="590.75" y="187.00" font-size="53" fill="#000">z = 0.18 m</text>
<circle cx="448.5" cy="234.4" r="25.0" fill="none" stroke="#D95319" stroke-width="7.0" shape-rendering="crispEdges"/>
<text x="590.75" y="252.50" font-size="53" fill="#000">z = 0.53 m</text>
<circle cx="448.5" cy="299.9" r="25.0" fill="none" stroke="#EDB120" stroke-width="7.0" shape-rendering="crispEdges"/>
<text x="590.75" y="317.90" font-size="53" fill="#000">z = 0.88 m</text>
<rect x="195.44" y="1068.97" width="11.93" height="7.50" fill="#fff"/>
<rect x="212.45" y="1068.97" width="11.62" height="7.50" fill="#fff"/>
<rect x="1399.89" y="1255.90" width="11.93" height="7.50" fill="#fff"/>
<rect x="1416.90" y="1255.90" width="11.62" height="7.50" fill="#fff"/>
<rect x="1613.59" y="1255.90" width="11.93" height="7.50" fill="#fff"/>
<rect x="1630.60" y="1255.90" width="11.62" height="7.50" fill="#fff"/>
<rect x="1847.28" y="1255.90" width="11.93" height="7.50" fill="#fff"/>
<rect x="1864.29" y="1255.90" width="11.62" height="7.50" fill="#fff"/>
<rect x="724.18" y="181.44" width="11.00" height="7.16" fill="#fff"/>
<rect x="739.87" y="181.44" width="10.71" height="7.16" fill="#fff"/>
</svg>
</body></html>
